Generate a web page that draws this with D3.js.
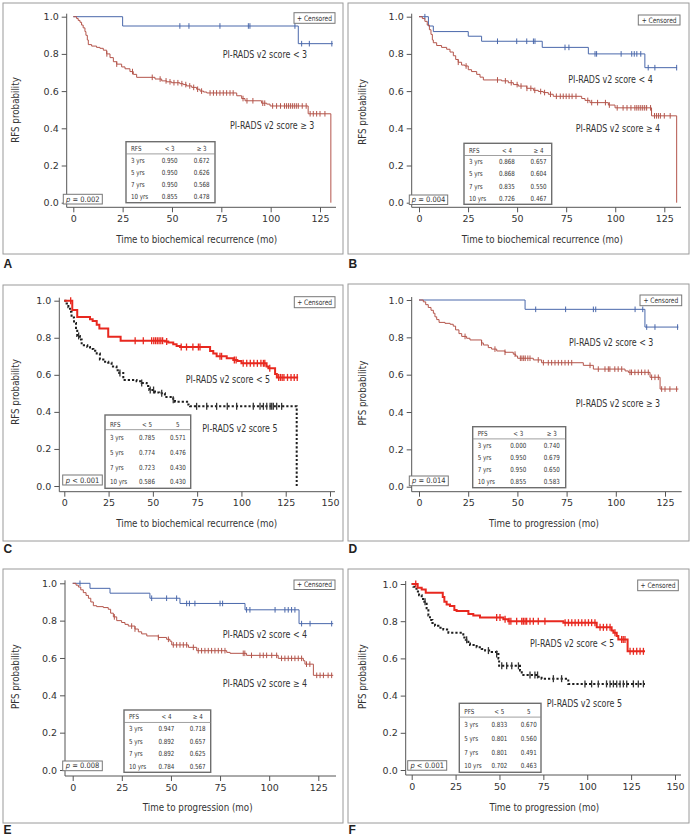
<!DOCTYPE html>
<html>
<head>
<meta charset="utf-8">
<script src="https://cdn.jsdelivr.net/npm/d3@7.9.0/dist/d3.min.js"></script>
<style>
body { margin: 0; background: #fff; }
svg { display: block; }
.cond { font-family: "Liberation Sans Narrow", "DejaVu Sans Condensed", "Roboto Condensed", "Liberation Sans", sans-serif; }
.tick text { font-family: "DejaVu Sans", sans-serif; font-size: 9.5px; fill: #333; }
</style>
</head>
<body>
<svg width="693" height="838"></svg>
<script>
// ---- data: event times / survival after event / censor times / last follow-up ----
// A: RFS, PI-RADS < 3 vs >= 3
const aLowT = [25, 114];
const aLowS = [0.950, 0.855];
const aLowC = [54, 58.6, 74.3, 88.7, 89.5, 112.3, 115.7, 119.6, 131];
const aLowEnd = 131.5;
const aHighT = [1.7, 2.5, 3.4, 4.2, 5, 5.9, 6.4, 7.1, 7.6, 9.3, 11.8, 13.5, 15.2, 16.9, 18.6, 20.3, 22, 24.5, 26.2, 28.7, 30.4, 32.1, 41.4, 44.8, 47.3, 49.8, 54, 55.7, 57.4, 60, 62.5, 64.2, 66, 67.6, 82.8, 85.3, 87, 95.4, 98, 99.7, 119, 130.5];
const aHighS = [0.99, 0.98, 0.97, 0.955, 0.94, 0.92, 0.90, 0.875, 0.85, 0.842, 0.835, 0.83, 0.82, 0.80, 0.78, 0.758, 0.745, 0.73, 0.72, 0.705, 0.69, 0.674, 0.665, 0.655, 0.65, 0.645, 0.64, 0.635, 0.628, 0.62, 0.61, 0.60, 0.595, 0.59, 0.575, 0.56, 0.548, 0.535, 0.53, 0.52, 0.478, 0];
const aHighC = [17, 22, 30, 40, 44, 47, 49, 51, 53, 55, 57, 59, 61, 63, 65, 69.3, 71, 72.6, 74.3, 76, 77.7, 79.4, 81, 86, 88, 91, 96, 97, 101, 103, 105, 107, 108, 109, 110, 111, 112, 113, 114, 116, 118, 120, 121.6, 123.3, 125, 127.5];
const aHighEnd = 130.5;

// B: RFS, PI-RADS < 4 vs >= 4
const bLowT = [4.8, 7.3, 25.1, 31.9, 62.8, 86.3, 115.1];
const bLowS = [0.95, 0.92, 0.895, 0.868, 0.835, 0.80, 0.726];
const bLowC = [3, 40, 49.8, 54.9, 58.3, 59.1, 74.4, 76.4, 89.7, 90.5, 103, 108.4, 109.7, 111, 113, 116.8, 120.2, 131.3];
const bLowEnd = 131.5;
const bHighT = [1.7, 3, 4.2, 5.3, 6.1, 6.8, 7.3, 9, 11.5, 14.1, 15.8, 17.5, 18.7, 20, 21.7, 23.4, 25.1, 26.8, 29.4, 31.1, 32.8, 42.1, 45.5, 48.1, 50.6, 54.9, 58.3, 60.8, 63.3, 65.9, 68.4, 82.9, 84.6, 87.1, 96.5, 99.9, 118.5, 131.3];
const bHighS = [0.99, 0.975, 0.955, 0.93, 0.905, 0.875, 0.86, 0.845, 0.835, 0.825, 0.81, 0.79, 0.77, 0.755, 0.74, 0.735, 0.715, 0.705, 0.69, 0.675, 0.66, 0.655, 0.645, 0.635, 0.627, 0.615, 0.604, 0.598, 0.592, 0.583, 0.572, 0.56, 0.55, 0.538, 0.525, 0.51, 0.467, 0];
const bHighC = [20, 24, 40, 44, 47, 50, 52, 55, 57, 59, 62, 64, 67, 70, 72, 73.5, 75, 76.5, 78, 80, 86, 88, 91, 95, 97, 101, 104, 106, 108, 110, 111, 112, 113, 114, 115, 116, 118, 120, 121, 122, 123, 125, 128];
const bHighEnd = 131.3;

// C: RFS, PI-RADS < 5 vs 5
const cLowT = [4.5, 7.3, 14.5, 16, 18.3, 19.8, 24.8, 31.8, 56.8, 58.7, 61.5, 63.4, 65.3, 82.3, 84.1, 86, 91.7, 95.4, 97.7, 100, 114.2, 115.2, 119, 120];
const cLowS = [0.95, 0.912, 0.90, 0.89, 0.87, 0.85, 0.806, 0.784, 0.78, 0.774, 0.765, 0.755, 0.75, 0.728, 0.715, 0.70, 0.69, 0.68, 0.675, 0.662, 0.645, 0.635, 0.605, 0.586];
const cLowC = [3.6, 40, 44.6, 49.3, 50.5, 51.5, 52.5, 53.5, 54.5, 55.5, 57.8, 66, 69, 72.6, 75.7, 76.6, 87.9, 88.8, 96, 97, 101, 103, 105, 107, 109, 111, 112.4, 113.2, 116, 121, 122, 123, 124, 126, 128, 129.8, 131.5];
const cLowEnd = 132;
const cHighT = [1.3, 2.3, 3.2, 4.1, 5.5, 6.6, 7.3, 8.8, 9.8, 13, 14.5, 16.4, 18.3, 20.1, 23, 24.8, 26.7, 29.5, 31, 33.3, 40.8, 43.7, 46.5, 48, 51.2, 53.6, 56.8, 61.5, 62.5, 70, 71, 131.2];
const cHighS = [0.985, 0.965, 0.94, 0.91, 0.88, 0.845, 0.81, 0.79, 0.76, 0.75, 0.74, 0.73, 0.715, 0.683, 0.67, 0.665, 0.645, 0.625, 0.61, 0.572, 0.565, 0.556, 0.54, 0.518, 0.505, 0.5, 0.48, 0.465, 0.455, 0.44, 0.43, 0];
const cHighC = [8.1, 31.4, 43.7, 48.5, 50.4, 55, 61.5, 74.7, 80.4, 86, 92, 97.3, 106.7, 110.5, 112.4, 114.3, 116.2, 117.1, 118, 119.9, 122.7];
const cHighEnd = 131.2;

// D: PFS, PI-RADS < 3 vs >= 3
const dLowT = [53.9, 114.8];
const dLowS = [0.95, 0.855];
const dLowC = [59.3, 74.5, 88.6, 89.8, 109.8, 113.7, 115.7, 119.9, 131.4];
const dLowEnd = 131.8;
const dHighT = [2.2, 3.4, 4.7, 6.1, 7.3, 8.1, 9, 10.2, 13.2, 15.8, 17.4, 18.6, 20.3, 21.7, 24.2, 25.9, 31.8, 32.7, 35.2, 36.9, 39.5, 43.7, 47.9, 49.1, 50.1, 58.1, 62.3, 83.5, 88.6, 104.7, 106.4, 117.4, 122.5];
const dHighS = [0.99, 0.975, 0.96, 0.945, 0.929, 0.91, 0.895, 0.88, 0.875, 0.87, 0.86, 0.84, 0.82, 0.805, 0.795, 0.786, 0.77, 0.759, 0.745, 0.737, 0.727, 0.72, 0.71, 0.70, 0.688, 0.679, 0.664, 0.65, 0.63, 0.62, 0.6125, 0.586, 0.523];
const dHighC = [23.4, 31.8, 38.6, 43.7, 48.8, 51.5, 52.3, 53.2, 54, 55.3, 56.4, 60.6, 63.2, 65.7, 67.4, 69.1, 70.8, 72.5, 74.2, 75.9, 77.6, 86.9, 91.1, 94.5, 96.2, 97, 99.5, 101.2, 103, 107.2, 108, 109.7, 111.4, 113.1, 114.8, 116.5, 118.2, 119.9, 121.6, 123.3, 125, 127.5, 130.9];
const dHighEnd = 131.8;

// E: PFS, PI-RADS < 4 vs >= 4
const eLowT = [8.8, 19, 39.3, 54.6, 87.7, 115.2];
const eLowS = [0.973, 0.947, 0.92, 0.892, 0.858, 0.784];
const eLowC = [3.7, 40.2, 47.8, 52.9, 58, 59.4, 62.2, 75, 76.3, 88.5, 90.2, 103, 108, 109.7, 111.4, 113.1, 116.5, 120.8, 131.8];
const eLowEnd = 132.6;
const eHighT = [1.7, 2.9, 4.1, 5.4, 6.8, 8, 9.2, 10.5, 12.2, 15.6, 18.1, 19.3, 20.7, 22.4, 24.9, 26.6, 28.3, 31.7, 33.4, 35.1, 37.7, 43.6, 47.8, 49.5, 50.4, 58.9, 63.1, 78.4, 80.1, 88.5, 104.6, 117.4, 118.2, 122.5];
const eHighS = [0.99, 0.98, 0.965, 0.95, 0.935, 0.92, 0.90, 0.88, 0.875, 0.87, 0.861, 0.84, 0.82, 0.80, 0.79, 0.78, 0.771, 0.755, 0.74, 0.729, 0.718, 0.71, 0.70, 0.69, 0.67, 0.657, 0.639, 0.63, 0.625, 0.614, 0.598, 0.585, 0.567, 0.507];
const eHighC = [21.2, 30, 31.7, 43.6, 48.7, 51.2, 52.9, 54.6, 56.3, 58, 61.4, 63.9, 65.6, 67.3, 69, 70.7, 72.4, 74.1, 75.8, 77.5, 86.8, 87.6, 91, 95.3, 97, 98.7, 101.3, 103.8, 106.3, 108, 109.7, 111.4, 113.1, 114.8, 116.5, 119, 120.7, 124.2, 125.9, 127.6, 130, 131.8];
const eHighEnd = 132.6;

// F: PFS, PI-RADS < 5 vs 5
const fLowT = [3.4, 5.7, 8, 17.7, 18.6, 19.9, 21.8, 24.3, 25.6, 32.3, 35.1, 38.9, 52.2, 55, 86.4, 105.4, 113.9, 114.9, 116.8, 117.7, 123];
const fLowS = [0.98, 0.971, 0.953, 0.93, 0.905, 0.89, 0.882, 0.86, 0.855, 0.839, 0.83, 0.82, 0.81, 0.80, 0.792, 0.767, 0.75, 0.738, 0.72, 0.702, 0.638];
const fLowC = [2.3, 48.4, 50.3, 53.2, 55.5, 56.5, 59.8, 62.7, 63.6, 64.6, 65.5, 67.4, 69.3, 72.1, 75.9, 87.4, 89.3, 91.2, 93.1, 95, 96.9, 98.8, 100.7, 102.5, 104.4, 107.3, 109.2, 111.1, 113, 115.8, 119.6, 120.5, 121.5, 124.4, 126.3, 128.2, 130.1, 132];
const fLowEnd = 132.9;
const fHighT = [1, 1.9, 2.8, 4.2, 5.7, 7.2, 8.5, 9.5, 10.4, 11.8, 13.3, 15.2, 18, 20.9, 29.4, 30.8, 32.3, 33.2, 37, 39.9, 41.8, 45.6, 48.4, 49.4, 49.8, 61.7, 62.7, 72.1, 74, 89.2];
const fHighS = [0.985, 0.975, 0.96, 0.94, 0.92, 0.905, 0.87, 0.83, 0.806, 0.79, 0.775, 0.765, 0.755, 0.738, 0.713, 0.70, 0.68, 0.672, 0.66, 0.65, 0.642, 0.635, 0.624, 0.60, 0.56, 0.535, 0.511, 0.502, 0.491, 0.463];
const fHighC = [7.6, 31.3, 43.7, 48.4, 51.3, 54.1, 57, 60.8, 67.4, 70.2, 71.7, 80.7, 85.4, 98.7, 102.5, 106.3, 111, 113, 114.9, 116.8, 118.7, 120.6, 122.5, 126.3, 129.1, 132];
const fHighEnd = 132.9;

// table contents
const yearRows = ['3 yrs', '5 yrs', '7 yrs', '10 yrs'];
const aTable = [['RFS', '< 3', '≥ 3'], ['0.950', '0.672'], ['0.950', '0.626'], ['0.950', '0.568'], ['0.855', '0.478']];
const bTable = [['RFS', '< 4', '≥ 4'], ['0.868', '0.657'], ['0.868', '0.604'], ['0.835', '0.550'], ['0.726', '0.467']];
const cTable = [['RFS', '< 5', '5'], ['0.785', '0.571'], ['0.774', '0.476'], ['0.723', '0.430'], ['0.586', '0.430']];
const dTable = [['PFS', '< 3', '≥ 3'], ['0.000', '0.740'], ['0.950', '0.679'], ['0.950', '0.650'], ['0.855', '0.583']];
const eTable = [['PFS', '< 4', '≥ 4'], ['0.947', '0.718'], ['0.892', '0.657'], ['0.892', '0.625'], ['0.784', '0.567']];
const fTable = [['PFS', '< 5', '5'], ['0.833', '0.670'], ['0.801', '0.560'], ['0.801', '0.491'], ['0.702', '0.463']];
const pValues = ['= 0.002', '= 0.004', '< 0.001', '= 0.014', '= 0.008', '< 0.001'];
const yTicks = [0, 0.2, 0.4, 0.6, 0.8, 1.0];
const xTicks125 = [0, 25, 50, 75, 100, 125];
const xTicks150 = [0, 25, 50, 75, 100, 125, 150];

const BLUE = '#4a68ab', BRICK = '#b4554b', RED = '#e8281f', BLACK = '#1e1e1e';

// ---- layout of the six panels ----
const panels = [
  { letter: 'A', box: [3, 3, 340, 251], xr: [73.3, 320], xt: xTicks125, yr: [202.7, 16.7], ax: 66.7, ay: 207.3, aEnd: 336,
    ytitle: 'RFS probability', ycx: 15, ycy: 110, xtitle: 'Time to biochemical recurrence (mo)', xcx: 196.7, xty: 243.3,
    curves: [
      { T: aLowT, S: aLowS, C: aLowC, end: aLowEnd, color: BLUE, w: 1 },
      { T: aHighT, S: aHighS, C: aHighC, end: aHighEnd, color: BRICK, w: 1 }],
    labels: [['PI-RADS v2 score < 3', 222.7, 58.3], ['PI-RADS v2 score ≥ 3', 230, 129.3]],
    table: aTable, tb: [126, 141.7, 89, 61], pb: [63.3, 194.3, 39, 9.7], cb: [294, 12.7, 41, 10.6], ly: 268 },
  { letter: 'B', box: [348, 3, 341, 251], xr: [419, 664.3], xt: xTicks125, yr: [202.7, 16.7], ax: 411.7, ay: 207.3, aEnd: 681,
    ytitle: 'RFS probability', ycx: 361.7, ycy: 112, xtitle: 'Time to biochemical recurrence (mo)', xcx: 542.3, xty: 243.3,
    curves: [
      { T: bLowT, S: bLowS, C: bLowC, end: bLowEnd, color: BLUE, w: 1 },
      { T: bHighT, S: bHighS, C: bHighC, end: bHighEnd, color: BRICK, w: 1 }],
    labels: [['PI-RADS v2 score < 4', 568.3, 83.3], ['PI-RADS v2 score ≥ 4', 575.7, 131.7]],
    table: bTable, tb: [464, 143.3, 87.7, 61], pb: [409.3, 195, 38.4, 9.5], cb: [638.3, 15, 41.7, 10], ly: 268 },
  { letter: 'C', box: [3, 285, 340, 256], xr: [64.3, 330], xt: xTicks150, yr: [486, 300.7], ax: 59.3, ay: 491.7, aEnd: 335,
    ytitle: 'RFS probability', ycx: 15, ycy: 392, xtitle: 'Time to biochemical recurrence (mo)', xcx: 196.7, xty: 527.3,
    curves: [
      { T: cHighT, S: cHighS, C: cHighC, end: cHighEnd, color: BLACK, w: 2, dash: '2.2,2' },
      { T: cLowT, S: cLowS, C: cLowC, end: cLowEnd, color: RED, w: 2 }],
    labels: [['PI-RADS v2 score < 5', 185.7, 383.3], ['PI-RADS v2 score 5', 202.3, 431.7]],
    table: cTable, tb: [105, 415, 85.7, 73.3], pb: [62.7, 475, 39.6, 10], cb: [294.3, 296.7, 40.7, 11], ly: 553 },
  { letter: 'D', box: [348, 284, 341, 257], xr: [419, 665], xt: xTicks125, yr: [486.7, 300], ax: 411.7, ay: 491.7, aEnd: 681.7,
    ytitle: 'PFS probability', ycx: 361.7, ycy: 393, xtitle: 'Time to progression (mo)', xcx: 544, xty: 526.7,
    curves: [
      { T: dLowT, S: dLowS, C: dLowC, end: dLowEnd, color: BLUE, w: 1 },
      { T: dHighT, S: dHighS, C: dHighC, end: dHighEnd, color: BRICK, w: 1 }],
    labels: [['PI-RADS v2 score < 3', 569, 345.7], ['PI-RADS v2 score ≥ 3', 575.7, 407.3]],
    table: dTable, tb: [472.7, 426.7, 93, 61], pb: [409.3, 476, 39, 9.7], cb: [640, 295, 41.7, 10.7], ly: 553 },
  { letter: 'E', box: [3, 569, 340, 254], xr: [72.7, 318.3], xt: xTicks125, yr: [770, 583.3], ax: 65, ay: 776, aEnd: 336,
    ytitle: 'PFS probability', ycx: 15, ycy: 676.7, xtitle: 'Time to progression (mo)', xcx: 197.7, xty: 811,
    curves: [
      { T: eLowT, S: eLowS, C: eLowC, end: eLowEnd, color: BLUE, w: 1 },
      { T: eHighT, S: eHighS, C: eHighC, end: eHighEnd, color: BRICK, w: 1 }],
    labels: [['PI-RADS v2 score < 4', 222.7, 638.3], ['PI-RADS v2 score ≥ 4', 222.7, 686.7]],
    table: eTable, tb: [124, 710, 86.7, 62.3], pb: [62.7, 761, 39.6, 9.7], cb: [294, 580, 41, 9.5], ly: 834 },
  { letter: 'F', box: [348, 569, 341, 254], xr: [411.7, 675], xt: xTicks150, yr: [770, 584], ax: 405.7, ay: 775, aEnd: 681,
    ytitle: 'PFS probability', ycx: 361.7, ycy: 676.7, xtitle: 'Time to progression (mo)', xcx: 544.3, xty: 811,
    curves: [
      { T: fHighT, S: fHighS, C: fHighC, end: fHighEnd, color: BLACK, w: 2, dash: '2.2,2' },
      { T: fLowT, S: fLowS, C: fLowC, end: fLowEnd, color: RED, w: 2 }],
    labels: [['PI-RADS v2 score < 5', 530, 647.3], ['PI-RADS v2 score 5', 546.7, 706.7]],
    table: fTable, tb: [459.3, 703.3, 81.7, 69], pb: [407.7, 760.7, 39, 9.5], cb: [637.7, 580, 40.6, 10.7], ly: 834 }
];

const svg = d3.select('svg');

// how much the condensed face needs squeezing (target width)
const probe = svg.append('text').attr('class', 'cond').style('font-size', '11px').text('Time to biochemical recurrence (mo)');
const squeeze = Math.min(1, 161 / probe.node().getComputedTextLength());
probe.remove();

function condText(g, str, x, y, size, anchor) {
  const t = g.append('text').attr('class', 'cond').attr('x', x).attr('y', y)
    .attr('text-anchor', anchor || 'start').style('font-size', size + 'px').attr('fill', '#333').text(str);
  if (squeeze < 0.97) {
    t.attr('textLength', t.node().getComputedTextLength() * squeeze).attr('lengthAdjust', 'spacingAndGlyphs');
  }
  return t;
}

function stepPoints(c) {
  const pts = [[0, 1]];
  c.T.forEach((t, i) => pts.push([t, c.S[i]]));
  const last = pts[pts.length - 1];
  if (c.end > last[0]) pts.push([c.end, last[1]]);
  return pts;
}

function survAt(c, t) {
  const i = d3.bisectRight(c.T, t);
  return i === 0 ? 1 : c.S[i - 1];
}

panels.forEach((p, pi) => {
  const g = svg.append('g');
  const tmax = p.xt[p.xt.length - 1];
  const x = d3.scaleLinear().domain([0, tmax]).range(p.xr);
  const y = d3.scaleLinear().domain([0, 1]).range(p.yr);

  // panel frame
  g.append('rect').attr('x', p.box[0]).attr('y', p.box[1]).attr('width', p.box[2]).attr('height', p.box[3])
    .attr('fill', 'none').attr('stroke', '#9a9a9a').attr('stroke-width', 1);

  // axes (offset SAS style)
  const xAxis = g.append('g').attr('transform', `translate(0,${p.ay})`)
    .call(d3.axisBottom(x).tickValues(p.xt).tickSize(5).tickPadding(3).tickFormat(d3.format('d')));
  xAxis.select('.domain').remove();
  const yAxis = g.append('g').attr('transform', `translate(${p.ax},0)`)
    .call(d3.axisLeft(y).tickValues(yTicks).tickSize(5).tickPadding(3).tickFormat(d3.format('.1f')));
  yAxis.select('.domain').remove();
  xAxis.selectAll('.tick line').attr('stroke', '#555');
  yAxis.selectAll('.tick line').attr('stroke', '#555');
  g.append('line').attr('x1', p.ax).attr('x2', p.aEnd).attr('y1', p.ay).attr('y2', p.ay).attr('stroke', '#555');
  g.append('line').attr('x1', p.ax).attr('x2', p.ax).attr('y1', y(1) - 3).attr('y2', p.ay).attr('stroke', '#555');

  // axis titles
  condText(g, p.xtitle, p.xcx, p.xty, 11, 'middle');
  condText(g, p.ytitle, 0, 0, 11, 'middle').attr('transform', `translate(${p.ycx + 4},${p.ycy}) rotate(-90)`);

  // curves
  const line = d3.line().x(d => x(d[0])).y(d => y(d[1])).curve(d3.curveStepAfter);
  p.curves.forEach(c => {
    g.append('path').attr('d', line(stepPoints(c))).attr('fill', 'none')
      .attr('stroke', c.color).attr('stroke-width', c.w).attr('stroke-dasharray', c.dash || null);
    const h = c.w > 1 ? 3.5 : 2.8;
    g.selectAll(null).data(c.C).join('line')
      .attr('x1', d => x(d)).attr('x2', d => x(d))
      .attr('y1', d => y(survAt(c, d)) - h).attr('y2', d => y(survAt(c, d)) + h)
      .attr('stroke', c.dash ? '#333' : c.color).attr('stroke-width', c.w > 1 ? 1.3 : 1);
  });

  // curve labels
  p.labels.forEach(l => condText(g, l[0], l[1], l[2], 10));

  // survival table
  const [tx, ty, tw, th] = p.tb;
  g.append('rect').attr('x', tx).attr('y', ty).attr('width', tw).attr('height', th)
    .attr('fill', '#fff').attr('stroke', '#6e6e6e').attr('stroke-width', 1.4);
  const sep = th * 0.2;
  g.append('line').attr('x1', tx).attr('x2', tx + tw).attr('y1', ty + sep).attr('y2', ty + sep)
    .attr('stroke', '#888').attr('stroke-width', 0.8);
  const c2 = tx + tw * 0.49, c3 = tx + tw * 0.85;
  condText(g, p.table[0][0], tx + 5, ty + sep - 3, 7);
  condText(g, p.table[0][1], c2, ty + sep - 3, 7, 'middle');
  condText(g, p.table[0][2], c3, ty + sep - 3, 7, 'middle');
  const rowH = (th - sep) / 4;
  yearRows.forEach((r, i) => {
    const by = ty + sep + rowH * (i + 0.72);
    condText(g, r, tx + 5, by, 7);
    condText(g, p.table[i + 1][0], c2, by, 7, 'middle');
    condText(g, p.table[i + 1][1], c3, by, 7, 'middle');
  });

  // p value box
  const [px, py, pw, ph] = p.pb;
  g.append('rect').attr('x', px).attr('y', py).attr('width', pw).attr('height', ph)
    .attr('fill', '#fff').attr('stroke', '#777').attr('stroke-width', 1);
  const pt = g.append('text').attr('class', 'cond').attr('x', px + pw / 2).attr('y', py + ph - 2.3)
    .attr('text-anchor', 'middle').style('font-size', '7.5px').attr('fill', '#333');
  pt.append('tspan').style('font-style', 'italic').text('p');
  pt.append('tspan').text(' ' + pValues[pi]);

  // censored legend box
  const [cx, cy, cw, ch] = p.cb;
  g.append('rect').attr('x', cx).attr('y', cy).attr('width', cw).attr('height', ch)
    .attr('fill', '#fff').attr('stroke', '#777').attr('stroke-width', 1);
  condText(g, '+ Censored', cx + cw / 2, cy + ch - 2.5, 7.5, 'middle');

  // panel letter
  g.append('text').attr('x', p.box[0] + 0.5).attr('y', p.ly)
    .style('font-family', '"Liberation Sans", Arial, sans-serif').style('font-weight', 'bold')
    .style('font-size', '12px').attr('fill', '#222').text(p.letter);
});
</script>
</body>
</html>
